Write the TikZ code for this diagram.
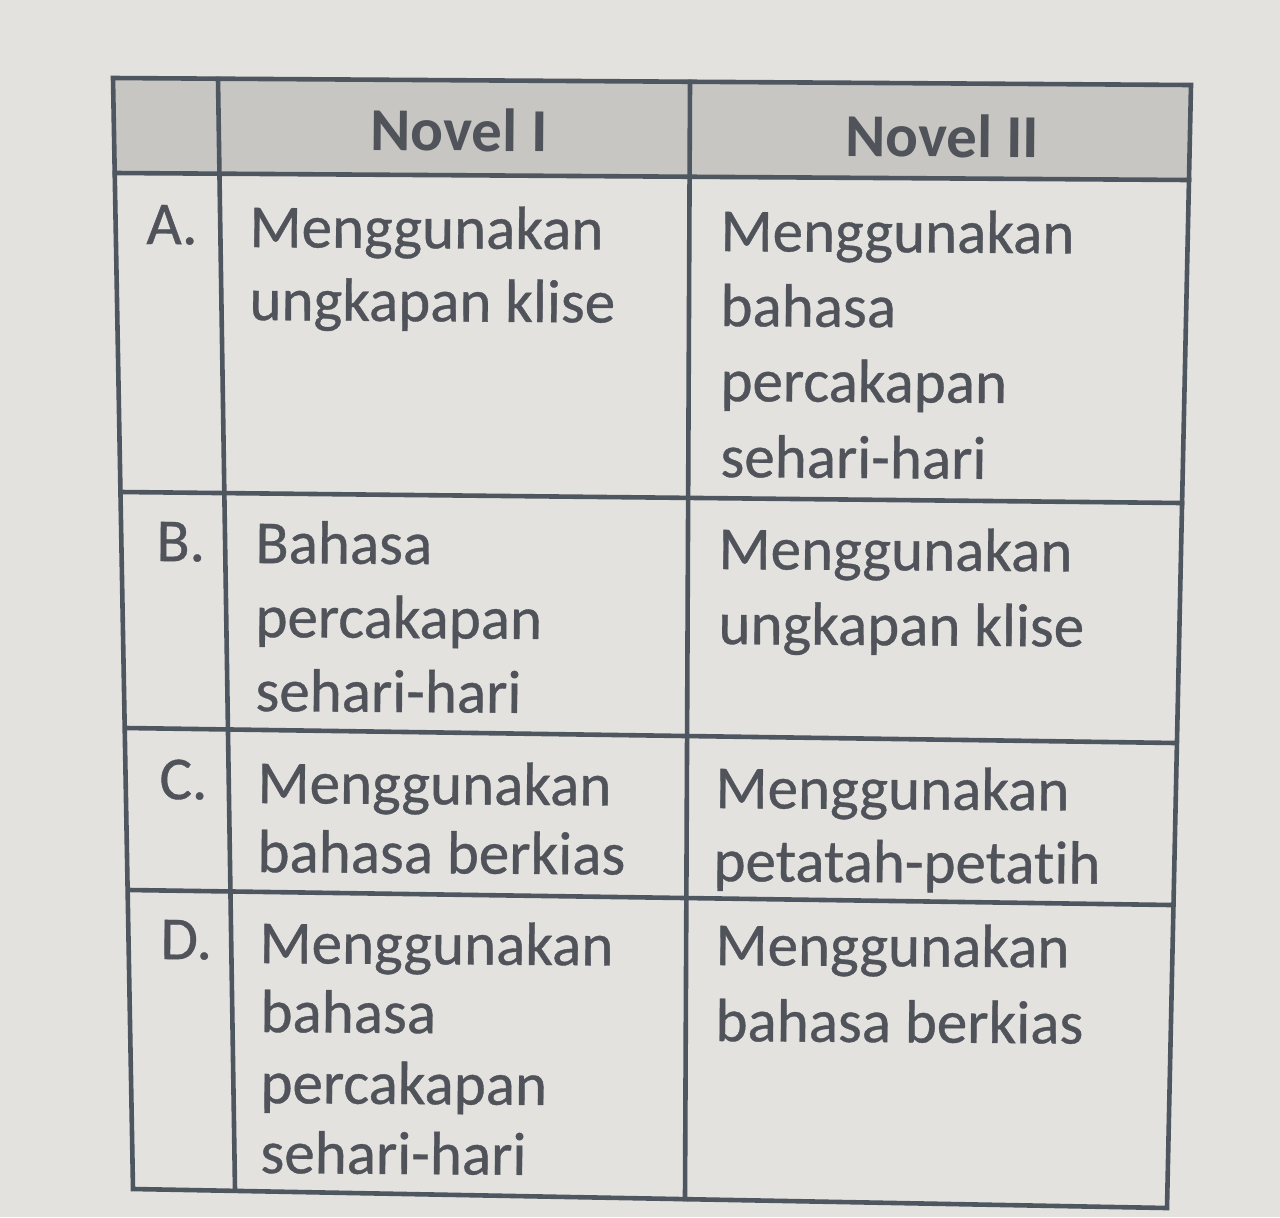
\documentclass[tikz,border=0pt]{standalone}
\usepackage{fontspec}
\setmainfont{Carlito}[Ligatures=NoCommon,RawFeature=-liga,FakeBold=0.6]
\newfontfamily\hdrfont{Carlito}[Ligatures=NoCommon,RawFeature=-liga]
\definecolor{bgc}{RGB}{227,226,223}
\definecolor{hdr}{RGB}{199,198,194}
\definecolor{rule}{RGB}{78,86,96}
\definecolor{txt}{RGB}{80,83,90}
\tikzset{
  gridline/.style={draw=rule, line width=2.3pt, line cap=rect},
  celltext/.style={anchor=base west, inner sep=0pt, text=txt, rotate=-0.4,
    font=\fontsize{30.5}{36}\selectfont},
  headtext/.style={anchor=base, inner sep=0pt, text=txt, rotate=-0.4,
    font=\hdrfont\fontsize{30.5}{36}\selectfont\bfseries},
}
\begin{document}
\begin{tikzpicture}[x=0.5pt,y=-0.5pt]
\useasboundingbox (0,0) rectangle (1280,1217);
\fill[bgc] (0,0) rectangle (1280,1217);
% corners and grid coordinates
\coordinate (TL) at (113,78);
\coordinate (TR) at (1191,85);
\coordinate (BR) at (1167,1208);
\coordinate (BL) at (133,1189);
\coordinate (V1t) at (218,79);
\coordinate (V1b) at (235,1190);
\coordinate (V2t) at (690,82);
\coordinate (V2b) at (685,1199);
\coordinate (H0l) at (115,173);
\coordinate (H0r) at (1189,180);
\coordinate (H1l) at (121,492);
\coordinate (H1r) at (1182,503);
\coordinate (H2l) at (126,728);
\coordinate (H2r) at (1176,743);
\coordinate (H3l) at (129,890);
\coordinate (H3r) at (1171,905);
% header shading
\fill[hdr] (TL) -- (TR) -- (H0r) -- (H0l) -- cycle;
% grid
\draw[gridline] (TL) -- (TR) -- (BR) -- (BL) -- cycle;
\draw[gridline] (V1t) -- (V1b);
\draw[gridline] (V2t) -- (V2b);
\draw[gridline] (H0l) -- (H0r);
\draw[gridline] (H1l) -- (H1r);
\draw[gridline] (H2l) -- (H2r);
\draw[gridline] (H3l) -- (H3r);
% header
\node[headtext] (hn1) at (459,151) {Novel I};
\node[headtext] (hn2) at (942,157) {Novel II};
% row A
\node[celltext] (la) at (146,244) {A.};
\node[celltext] (a1a) at (249,247) {Menggunakan};
\node[celltext] (a1b) at (249,320) {ungkapan klise};
\node[celltext] (a2a) at (720,251) {Menggunakan};
\node[celltext] (a2b) at (720,326) {bahasa};
\node[celltext] (a2c) at (720,401) {percakapan};
\node[celltext] (a2d) at (720,477) {sehari-hari};
% row B
\node[celltext] (lb) at (156,561) {B.};
\node[celltext] (b1a) at (255,563) {Bahasa};
\node[celltext] (b1b) at (255,637) {percakapan};
\node[celltext] (b1c) at (255,711) {sehari-hari};
\node[celltext] (b2a) at (718,569) {Menggunakan};
\node[celltext] (b2b) at (718,644) {ungkapan klise};
% row C
\node[celltext] (lc) at (159,799) {C.};
\node[celltext] (c1a) at (257,803) {Menggunakan};
\node[celltext] (c1b) at (257,872) {bahasa berkias};
\node[celltext] (c2a) at (715,808) {Menggunakan};
\node[celltext] (c2b) at (713,881) {petatah-petatih};
% row D
\node[celltext] (ld) at (160,959) {D.};
\node[celltext] (d1a) at (259,963) {Menggunakan};
\node[celltext] (d1b) at (260,1032) {bahasa};
\node[celltext] (d1c) at (260,1103) {percakapan};
\node[celltext] (d1d) at (260,1173) {sehari-hari};
\node[celltext] (d2a) at (715,965) {Menggunakan};
\node[celltext] (d2b) at (715,1041) {bahasa berkias};
\end{tikzpicture}
\end{document}
